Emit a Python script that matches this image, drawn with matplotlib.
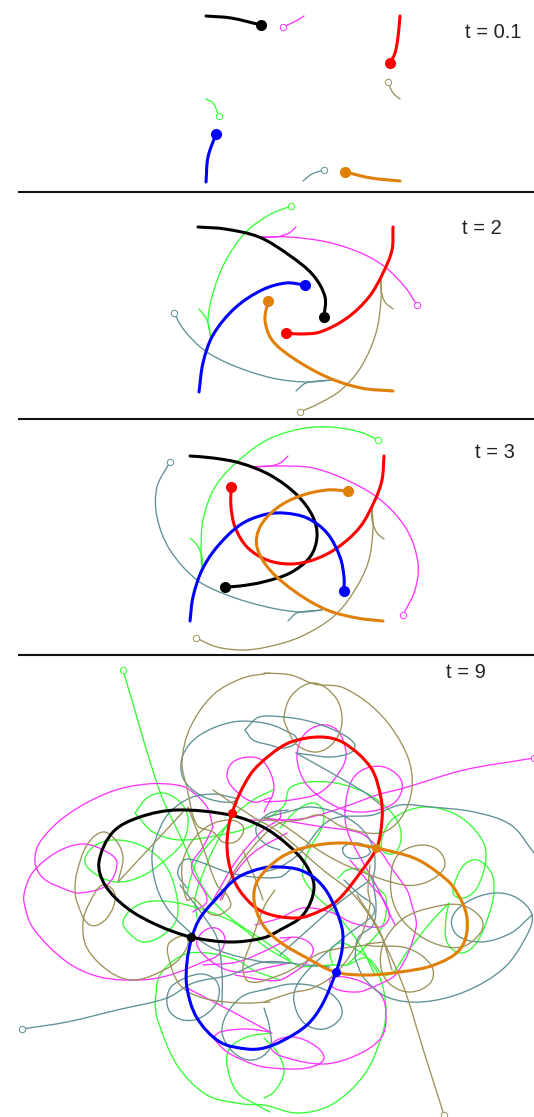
import math
import matplotlib
matplotlib.use('Agg')
import matplotlib.pyplot as plt
from matplotlib.path import Path
from matplotlib.patches import PathPatch

BLACK = '#000000'
RED = '#ff0000'
BLUE = '#0000ff'
ORANGE = '#e08008'
GREEN = '#33ff33'
MAGENTA = '#ff33ff'
TEAL = '#5f9095'
OLIVE = '#9c9258'

# everything, in its pixel units (x, y)
# t = 0.1
t01_black = [(206, 16), (231, 18), (261, 25)]
t01_red = [(400, 16), (398, 37), (395, 53), (390, 63)]
t01_blue = [(206, 182), (208, 157), (216, 134)]
t01_orange = [(400, 181), (371, 178), (345, 172)]
t01_green = [(206, 99), (213, 103), (219, 116)]
t01_magenta = [(304, 16), (296, 21), (283, 27)]
t01_teal = [(303, 181), (312, 174), (324, 170)]
t01_olive = [(400, 99), (393, 93), (388, 82)]

# t = 2
t2_black = [(198, 227), (225, 229), (259, 237), (289, 255), (313, 275), (325, 297), (324, 317)]
t2_red = [(393, 227), (392, 250), (383, 273), (369, 297), (347, 318), (320, 332), (300, 334), (286, 333)]
t2_blue = [(199, 392), (203, 363), (213, 335), (235, 308), (262, 290), (286, 283), (305, 285)]
t2_orange = [(393, 391), (361, 388), (327, 377), (293, 358), (272, 340), (265, 320), (268, 301)]
t2_green = [[(199, 309), (207, 320), (211, 338)],
            [(211, 338), (208, 320), (213, 293), (225, 262), (245, 233), (269, 215), (291, 206)]]
t2_magenta = [[(296, 227), (289, 233), (276, 237), (260, 237)],
              [(260, 237), (289, 237), (327, 242), (361, 253), (385, 267), (405, 287), (417, 305)]]
t2_teal = [[(296, 391), (306, 383), (332, 380)],
           [(332, 380), (306, 382), (272, 378), (232, 365), (204, 350), (184, 330), (174, 313)]]
t2_olive = [[(393, 309), (385, 302), (381, 290), (381, 278)],
            [(381, 278), (381, 300), (376, 333), (361, 367), (341, 390), (320, 403), (300, 412)]]

# t = 3
t3_black = [(190, 456), (213, 458), (240, 463), (270, 475), (297, 495), (313, 517), (317, 537),
            (310, 557), (290, 573), (263, 582), (240, 586), (225, 587)]
t3_red = [(384, 456), (382, 480), (375, 500), (360, 527), (337, 548), (313, 560), (290, 564),
          (267, 560), (247, 547), (235, 527), (231, 507), (231, 487)]
t3_blue = [(190, 621), (193, 597), (202, 570), (217, 547), (240, 525), (263, 515), (283, 513),
           (307, 518), (327, 533), (340, 557), (344, 577), (344, 591)]
t3_orange = [(383, 621), (357, 618), (327, 610), (297, 593), (270, 570), (257, 547), (260, 527),
             (277, 508), (300, 496), (327, 490), (348, 491)]
t3_green = [[(190, 538), (197, 545), (202, 557), (202, 569)],
            [(202, 569), (201, 553), (203, 520), (215, 487), (237, 462), (267, 440), (300, 429),
             (330, 427), (360, 432), (378, 440)]]
t3_magenta = [[(288, 456), (280, 463), (270, 466), (251, 467)],
              [(251, 467), (273, 466), (313, 468), (353, 483), (383, 502), (407, 530), (418, 563),
               (415, 590), (403, 615)]]
t3_teal = [[(288, 621), (297, 613), (322, 610)],
           [(322, 610), (300, 612), (267, 607), (227, 595), (197, 580), (170, 550), (157, 517),
            (157, 487), (170, 462)]]
t3_olive = [[(384, 539), (377, 533), (372, 520), (372, 508)],
            [(372, 508), (373, 530), (368, 563), (353, 593), (333, 617), (300, 637), (267, 647),
             (243, 650), (217, 647), (196, 638)]]

# t = 9
t9_black = [(191, 937), (157, 925), (127, 908), (105, 885), (99, 862), (113, 832), (140, 817),
            (177, 810), (230, 815), (263, 827), (288, 845), (306, 865), (314, 888),
            (303, 915), (280, 930), (263, 938), (230, 942), (191, 937)]
t9_red = [(232, 813), (250, 775), (270, 755), (291, 742), (321, 737), (344, 743), (371, 768),
          (381, 798), (382, 820), (377, 847), (360, 873), (338, 900), (320, 911), (297, 918),
          (263, 912), (243, 895), (232, 875), (227, 845), (232, 813)]
t9_blue = [(336, 972), (322, 1005), (307, 1025), (284, 1040), (264, 1048), (247, 1049), (220, 1042),
           (197, 1018), (187, 988), (187, 962), (192, 937), (200, 918), (215, 900), (237, 878),
           (263, 868), (280, 867), (300, 870), (317, 880), (330, 897), (342, 928), (342, 950), (336, 972)]
t9_orange = [(376, 848), (414, 858), (437, 872), (454, 888), (467, 918), (461, 948), (434, 965),
             (400, 972), (367, 975), (335, 972), (307, 958), (280, 942), (263, 925), (254, 900),
             (258, 880), (280, 858), (307, 847), (343, 843), (376, 848)]
t9_green = [
    [(123, 670), (160, 792), (183, 842), (200, 882), (212, 900), (233, 920), (270, 945), (290, 960)],
    [(135, 813), (147, 798), (163, 793), (180, 802), (188, 818), (183, 842), (163, 862), (140, 877),
     (117, 882), (97, 875), (85, 862), (93, 847), (113, 840), (140, 845), (163, 862), (175, 888),
     (177, 918), (163, 935), (143, 942), (128, 932), (123, 922), (133, 908), (153, 901), (187, 905),
     (233, 922), (267, 948), (300, 967)],
    [(135, 813), (153, 832), (180, 840), (220, 835), (247, 828), (283, 807), (291, 787), (327, 782),
     (364, 792), (391, 812), (401, 832), (396, 852), (384, 852), (382, 838), (394, 818), (424, 807),
     (457, 815), (481, 838), (486, 858), (477, 888), (464, 898), (454, 895), (454, 885), (464, 865),
     (477, 860), (491, 872), (494, 888), (491, 908), (477, 942), (461, 953), (447, 942), (446, 918),
     (449, 903)],
    [(449, 903), (431, 922), (407, 952), (387, 975), (367, 958), (347, 965), (333, 965), (300, 967)],
    [(155, 1002), (160, 975), (183, 955), (207, 953), (237, 960), (253, 970), (280, 980)],
    [(155, 1002), (157, 1018), (177, 1065), (207, 1095), (243, 1104), (264, 1105), (297, 1113),
     (331, 1105), (364, 1075), (382, 1035), (386, 1008), (380, 978), (367, 958), (357, 950),
     (340, 943), (330, 952), (333, 965)],
    [(270, 1033), (247, 1037), (230, 1048), (227, 1065), (237, 1092), (257, 1105), (270, 1112)],
    [(264, 1038), (277, 1052), (284, 1072), (274, 1092), (264, 1098)],
    [(280, 828), (297, 810), (313, 803), (323, 810), (322, 827), (310, 848), (303, 867), (303, 877),
     (315, 895), (337, 915), (360, 945), (375, 975)],
    [(338, 878), (347, 870), (363, 870), (377, 887), (386, 898), (383, 925), (367, 945), (347, 965)],
    [(273, 790), (253, 800), (233, 817), (213, 850), (198, 887), (195, 900), (197, 918)],
    [(187, 895), (190, 880), (200, 855), (232, 820)],
]
t9_magenta = [
    [(534, 758), (464, 770), (404, 788), (377, 795), (344, 807), (307, 818), (280, 820), (250, 820)],
    [(264, 802), (291, 800), (321, 792), (342, 768), (346, 752), (337, 730), (321, 725), (304, 735),
     (297, 758), (307, 785), (337, 807), (364, 812), (394, 803), (402, 783), (387, 768), (367, 768),
     (352, 780), (345, 810), (348, 833), (360, 857), (377, 887), (383, 900), (395, 925)],
    [(270, 798), (253, 802), (233, 788), (227, 775), (233, 762), (250, 757), (264, 762), (274, 788),
     (264, 812)],
    [(213, 827), (207, 807), (190, 790), (177, 785), (147, 784), (110, 792), (67, 815), (40, 842),
     (35, 862), (43, 878), (67, 890), (80, 893), (107, 885), (117, 863), (107, 852), (83, 844),
     (57, 852), (33, 872), (25, 890), (24, 902), (33, 928), (67, 962), (100, 977), (140, 980),
     (170, 975), (203, 962), (218, 955), (225, 940), (220, 930), (210, 928), (200, 935), (197, 945),
     (207, 958), (227, 970), (247, 972), (270, 967), (290, 963)],
    [(213, 827), (203, 847), (192, 863), (193, 873), (207, 900), (193, 912)],
    [(272, 1033), (233, 1012), (187, 988)],
    [(213, 1038), (220, 1032), (247, 1029), (270, 1032)],
    [(213, 1038), (227, 1052), (250, 1063), (264, 1067), (297, 1069), (317, 1065), (324, 1057),
     (314, 1045), (294, 1037), (277, 1040), (271, 1048), (284, 1057), (324, 1064), (357, 1055),
     (381, 1038), (386, 1018), (381, 995), (357, 980), (331, 978), (334, 988), (357, 992), (373, 987),
     (397, 973), (416, 928), (411, 902), (407, 890), (393, 870), (377, 847), (360, 833), (323, 827),
     (280, 820), (264, 818)],
    [(280, 938), (300, 938), (313, 948), (307, 962), (293, 973), (280, 980), (264, 980), (235, 975)],
    [(255, 925), (280, 918), (303, 908), (330, 912), (353, 923), (380, 927), (389, 918), (385, 902),
     (371, 885), (350, 860)],
    [(213, 900), (237, 860), (263, 830), (280, 818), (280, 810)],
    [(220, 900), (230, 880), (253, 853), (287, 833)],
    [(290, 938), (267, 950), (237, 962), (203, 965)],
]
t9_teal = [
    [(22, 1029), (67, 1022), (117, 1010), (167, 998), (193, 983), (230, 975), (264, 962), (307, 965),
     (330, 967)],
    [(167, 998), (173, 985), (200, 974), (217, 982), (217, 1002), (200, 1018), (183, 1020), (170, 1012),
     (167, 998)],
    [(270, 988), (240, 998), (222, 1028), (233, 1052), (253, 1060), (270, 1048), (269, 1025), (264, 1008)],
    [(264, 990), (291, 984), (321, 988), (339, 1002), (341, 1017), (324, 1029), (304, 1023), (294, 1002),
     (297, 985), (313, 965), (347, 935), (373, 915), (373, 905), (360, 895), (344, 880)],
    [(355, 958), (364, 978), (387, 997), (421, 1002), (464, 992), (504, 968), (527, 935), (532, 915),
     (517, 898), (494, 893), (467, 902), (452, 918), (457, 935), (481, 942), (511, 933), (532, 915)],
    [(355, 958), (358, 938), (373, 925), (376, 905), (373, 880), (375, 867), (373, 847), (360, 827),
     (337, 813), (310, 807), (287, 812), (264, 818)],
    [(534, 853), (511, 825), (474, 812), (431, 807), (400, 805), (373, 815), (330, 820), (300, 853),
     (280, 867), (264, 872)],
    [(245, 730), (257, 718), (270, 716), (304, 720), (334, 730), (354, 743), (352, 752), (331, 757),
     (311, 755), (296, 753)],
    [(296, 753), (321, 767), (364, 792), (381, 805)],
    [(245, 730), (253, 740), (270, 745), (284, 748), (297, 740), (284, 730), (264, 723), (233, 722),
     (200, 735), (183, 755), (183, 778), (200, 795), (223, 802), (237, 800), (230, 797), (213, 794),
     (190, 798), (170, 812), (160, 828), (152, 855), (157, 888), (170, 912), (197, 938), (217, 950),
     (263, 962), (290, 963)],
    [(288, 810), (270, 813), (257, 825), (257, 835), (267, 845), (280, 850)],
    [(187, 888), (178, 875), (180, 865), (187, 859), (203, 863), (227, 872), (253, 877), (280, 877),
     (290, 870)],
    [(203, 915), (217, 938), (222, 972), (222, 1005)],
    [(343, 848), (347, 857), (360, 858), (370, 853), (366, 846), (355, 843), (343, 848)],
    [(280, 955), (310, 928), (340, 902), (370, 880)],
    [(180, 885), (203, 915)],
]
t9_olive = [
    [(444, 1115), (424, 1052), (404, 988), (384, 942), (371, 918), (351, 892), (323, 870), (280, 833),
     (250, 815), (213, 790)],
    [(384, 942), (367, 945), (407, 948), (431, 965), (431, 982), (411, 992), (391, 985), (381, 968),
     (384, 942), (404, 918), (434, 907), (461, 905), (481, 918), (481, 932), (461, 947), (431, 942),
     (404, 922), (392, 898), (392, 868), (401, 852), (424, 845), (441, 853), (444, 868), (427, 882),
     (404, 885), (357, 870), (323, 853), (280, 823), (264, 818)],
    [(367, 945), (323, 952), (300, 965), (280, 975), (250, 982), (243, 968), (250, 945), (265, 905),
     (275, 890)],
    [(264, 1002), (291, 993), (313, 988), (337, 972), (360, 938), (370, 905), (368, 890), (370, 865)],
    [(270, 673), (243, 678), (213, 695), (190, 728), (182, 762), (187, 788), (197, 825), (213, 832),
     (223, 842), (235, 842), (243, 833), (242, 825), (230, 820), (210, 825), (193, 840), (183, 860),
     (182, 877), (187, 900), (193, 898), (213, 915), (230, 907), (227, 895), (217, 885), (203, 847),
     (188, 807)],
    [(264, 673), (291, 675), (314, 684), (344, 688), (381, 715), (407, 755), (412, 788), (401, 818),
     (380, 833), (343, 827), (320, 815), (300, 820), (280, 823), (264, 835), (235, 870), (222, 900)],
    [(284, 717), (292, 695), (314, 683), (336, 698), (342, 722), (334, 742), (317, 752), (297, 745),
     (287, 728), (284, 717)],
    [(183, 812), (118, 882)],
    [(118, 882), (123, 858), (117, 842), (103, 832), (87, 845), (77, 872), (75, 888), (77, 902), (90, 925),
     (107, 918), (115, 895), (103, 885), (90, 902), (83, 922), (87, 948), (110, 972), (133, 980),
     (160, 972), (180, 958), (187, 938), (170, 942), (168, 955), (180, 985), (203, 998), (240, 1003),
     (270, 1002)],
    [(243, 850), (257, 883), (263, 900)],
    [(357, 895), (380, 932), (392, 970)],
]

rule_ys = [192, 419, 655]
labels = ['t = 0.1', 't = 2', 't = 3', 't = 9']
label_xs = [465, 462, 475, 446]
label_ys = [33, 228, 452, 672]


def unit_tangent(a, b):
    dx = b[0] - a[0]
    dy = b[1] - a[1]
    d = math.hypot(dx, dy) or 1
    return dx / d, dy / d


def draw_curve(ax, pts, color, lw, zorder):
    # cubic segments through the read points, handles scaled to each chord so uneven spacing does not kink
    closed = pts[0] == pts[-1] and len(pts) > 3
    verts = [pts[0]]
    codes = [Path.MOVETO]
    for i in range(len(pts) - 1):
        if i > 0:
            p0 = pts[i - 1]
        else:
            p0 = pts[-2] if closed else pts[0]
        p1 = pts[i]
        p2 = pts[i + 1]
        if i + 2 < len(pts):
            p3 = pts[i + 2]
        else:
            p3 = pts[1] if closed else pts[-1]
        chord = math.hypot(p2[0] - p1[0], p2[1] - p1[1]) / 3
        t1 = unit_tangent(p0, p2)
        t2 = unit_tangent(p1, p3)
        verts += [(p1[0] + t1[0] * chord, p1[1] + t1[1] * chord),
                  (p2[0] - t2[0] * chord, p2[1] - t2[1] * chord), p2]
        codes += [Path.CURVE4, Path.CURVE4, Path.CURVE4]
    ax.add_patch(PathPatch(Path(verts, codes), fc='none', ec=color, lw=lw, zorder=zorder,
                           capstyle='round', joinstyle='round'))


def draw_thin(ax, pieces, color, open_end):
    for piece in pieces:
        draw_curve(ax, piece, color, 0.95, 2)
    ax.plot(open_end[0], open_end[1], 'o', ms=4.6, mfc='white', mec=color, mew=0.7, zorder=3)


def draw_thick(ax, pts, color, ms):
    draw_curve(ax, pts, color, 2.2, 4)
    ax.plot(pts[-1][0], pts[-1][1], 'o', ms=ms, color=color, mew=0, zorder=5)


fig = plt.figure(figsize=(5.34, 11.17), dpi=100)
ax = fig.add_axes([0, 0, 1, 1])
ax.set_xlim(0, 534)
ax.set_ylim(1117, 0)
ax.axis('off')

for y in rule_ys:
    ax.plot([18, 534], [y, y], color='#111111', lw=1.5, zorder=1, solid_capstyle='butt')

for x, y, label in zip(label_xs, label_ys, labels):
    ax.text(x, y, label, fontsize=14.5, family='Liberation Sans', color='#222222', va='center', ha='left')

# t = 0.1
draw_thin(ax, [t01_green], GREEN, t01_green[-1])
draw_thin(ax, [t01_magenta], MAGENTA, t01_magenta[-1])
draw_thin(ax, [t01_teal], TEAL, t01_teal[-1])
draw_thin(ax, [t01_olive], OLIVE, t01_olive[-1])
draw_thick(ax, t01_black, BLACK, 8)
draw_thick(ax, t01_red, RED, 8)
draw_thick(ax, t01_blue, BLUE, 8)
draw_thick(ax, t01_orange, ORANGE, 8)

# t = 2
draw_thin(ax, t2_green, GREEN, t2_green[-1][-1])
draw_thin(ax, t2_magenta, MAGENTA, t2_magenta[-1][-1])
draw_thin(ax, t2_teal, TEAL, t2_teal[-1][-1])
draw_thin(ax, t2_olive, OLIVE, t2_olive[-1][-1])
draw_thick(ax, t2_black, BLACK, 8)
draw_thick(ax, t2_red, RED, 8)
draw_thick(ax, t2_blue, BLUE, 8)
draw_thick(ax, t2_orange, ORANGE, 8)

# t = 3
draw_thin(ax, t3_green, GREEN, t3_green[-1][-1])
draw_thin(ax, t3_magenta, MAGENTA, t3_magenta[-1][-1])
draw_thin(ax, t3_teal, TEAL, t3_teal[-1][-1])
draw_thin(ax, t3_olive, OLIVE, t3_olive[-1][-1])
draw_thick(ax, t3_black, BLACK, 8)
draw_thick(ax, t3_red, RED, 8)
draw_thick(ax, t3_blue, BLUE, 8)
draw_thick(ax, t3_orange, ORANGE, 8)

# t = 9
draw_thin(ax, t9_green, GREEN, t9_green[0][0])
draw_thin(ax, t9_magenta, MAGENTA, t9_magenta[0][0])
draw_thin(ax, t9_teal, TEAL, t9_teal[0][0])
draw_thin(ax, t9_olive, OLIVE, t9_olive[0][0])
draw_thick(ax, t9_black, BLACK, 6.5)
draw_thick(ax, t9_red, RED, 6.5)
draw_thick(ax, t9_blue, BLUE, 6.5)
draw_thick(ax, t9_orange, ORANGE, 6.5)

fig.savefig('out.png', dpi=100)
